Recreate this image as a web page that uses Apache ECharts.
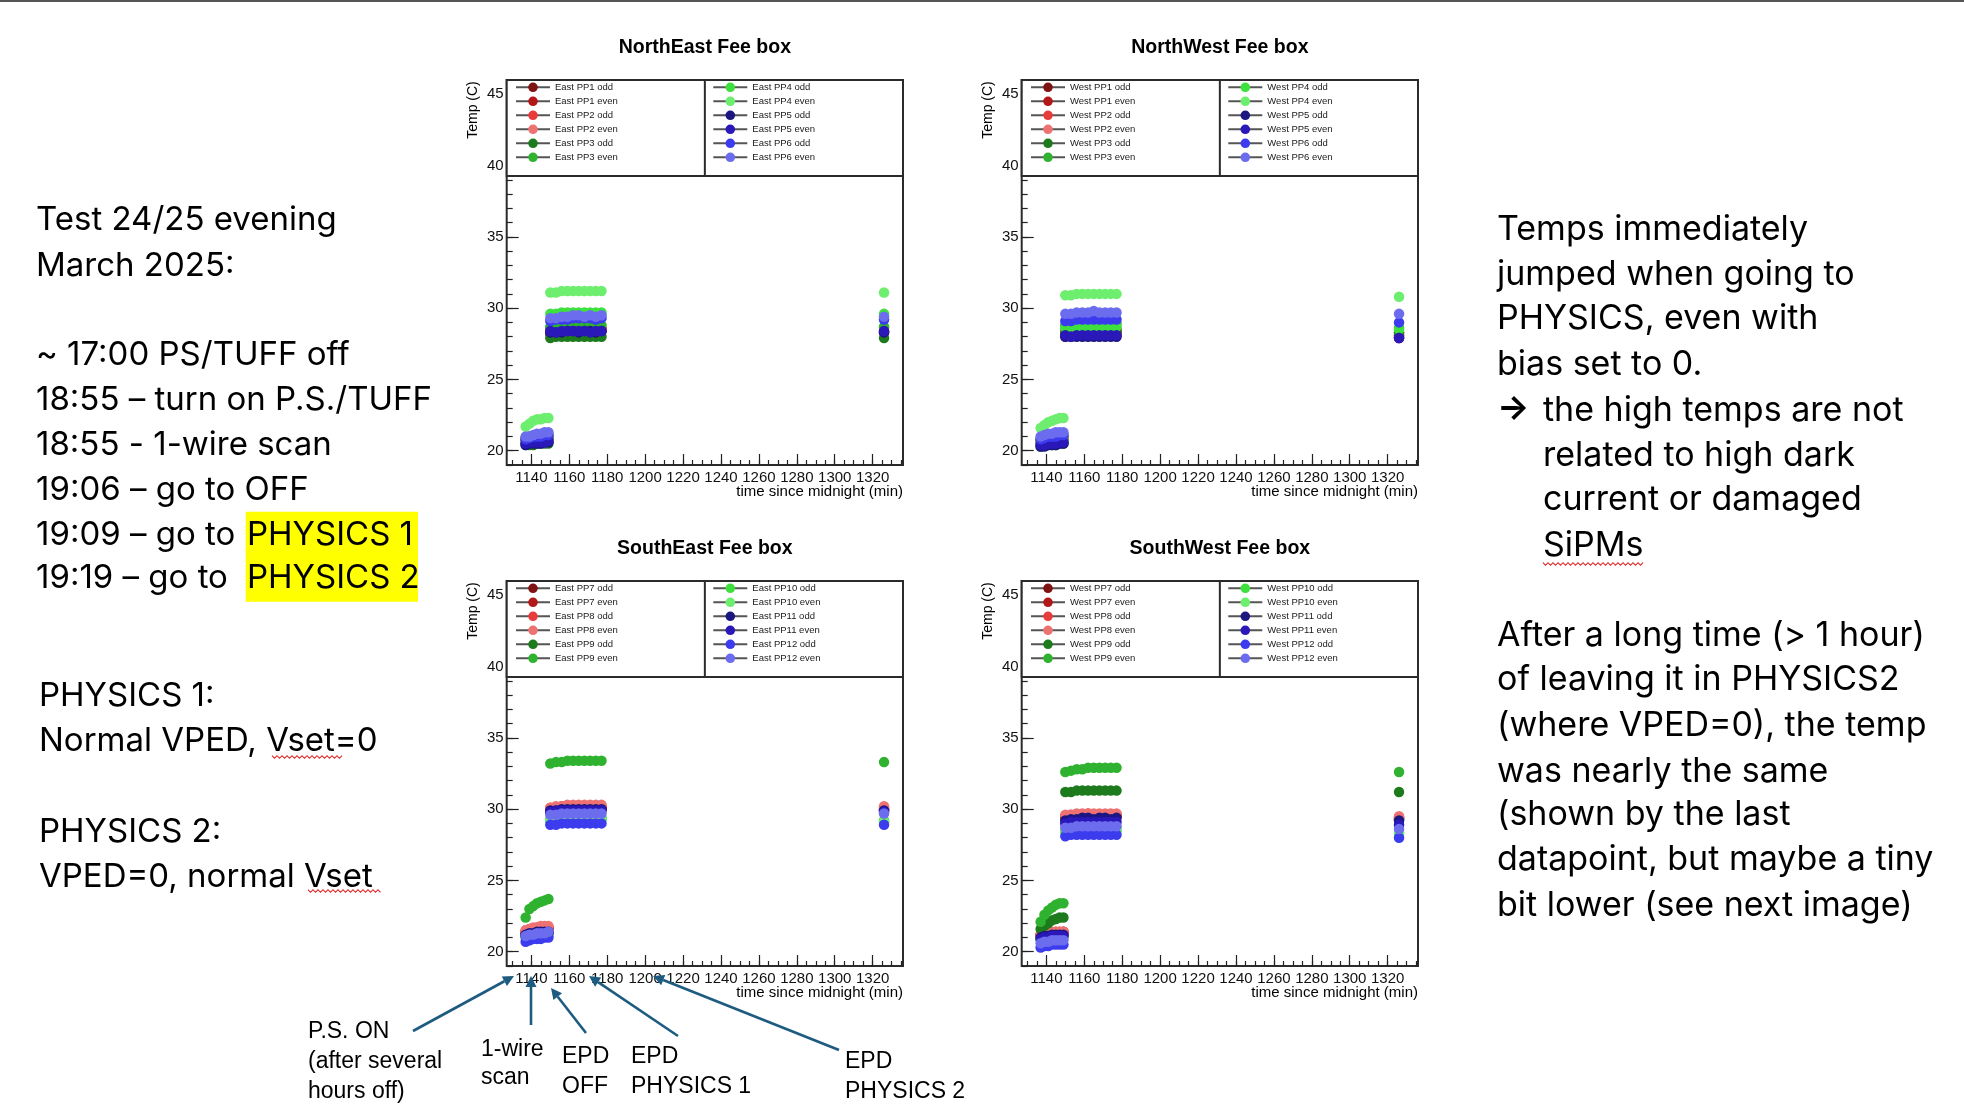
<!DOCTYPE html>
<html><head><meta charset="utf-8">
<script src="https://cdn.jsdelivr.net/npm/echarts@6/dist/echarts.min.js"></script>
<style>html,body{margin:0;padding:0;background:#fff}#c{width:1964px;height:1118px}</style>
</head><body><div id="c"></div>
<script>
// ---------------- DATA ----------------
const times = [1137,1139,1141,1143,1145,1147,1149, 1150,1153,1156,1159,1162,1165,1168,1171,1174,1177, 1326];

const xMajorTicks = [1140,1160,1180,1200,1220,1240,1260,1280,1300,1320];
const xMinorTicks = [1130,1135,1140,1145,1150,1155,1160,1165,1170,1175,1180,1185,1190,1195,1200,1205,1210,1215,1220,1225,1230,1235,1240,1245,1250,1255,1260,1265,1270,1275,1280,1285,1290,1295,1300,1305,1310,1315,1320,1325,1330,1335];
const yMajorTicks = [20,25,30,35,40,45];
const yMinorTicks = [19,20,21,22,23,24,25,26,27,28,29,30,31,32,33,34,35,36,37,38,39,40,41,42,43,44,45,46];

const panelTitles = ['NorthEast Fee box','NorthWest Fee box','SouthEast Fee box','SouthWest Fee box'];
const seriesColors = ['#7f1212','#b31818','#e83c3c','#ee7272','#1d7a1d','#2fb22f','#3ee03e','#6eee6e','#1c1680','#2a18b8','#3c3cee','#6c6cee'];

const northEastNames = ['East PP1 odd','East PP1 even','East PP2 odd','East PP2 even','East PP3 odd','East PP3 even','East PP4 odd','East PP4 even','East PP5 odd','East PP5 even','East PP6 odd','East PP6 even'];
const northWestNames = ['West PP1 odd','West PP1 even','West PP2 odd','West PP2 even','West PP3 odd','West PP3 even','West PP4 odd','West PP4 even','West PP5 odd','West PP5 even','West PP6 odd','West PP6 even'];
const southEastNames = ['East PP7 odd','East PP7 even','East PP8 odd','East PP8 even','East PP9 odd','East PP9 even','East PP10 odd','East PP10 even','East PP11 odd','East PP11 even','East PP12 odd','East PP12 even'];
const southWestNames = ['West PP7 odd','West PP7 even','West PP8 odd','West PP8 even','West PP9 odd','West PP9 even','West PP10 odd','West PP10 even','West PP11 odd','West PP11 even','West PP12 odd','West PP12 even'];

const northEastTemps = [
 [20.7,20.7,20.8,20.8,20.8,20.8,20.9, 28.2,28.3,28.3,28.3,28.4,28.3,28.4,28.3,28.4,28.4, 28.3],
 [20.8,20.8,20.9,20.9,20.9,21.0,21.0, 28.4,28.4,28.5,28.4,28.5,28.5,28.4,28.5,28.5,28.5, 28.4],
 [20.9,21.0,21.0,21.0,21.1,21.1,21.1, 28.5,28.6,28.6,28.6,28.6,28.7,28.6,28.6,28.7,28.6, 28.6],
 [20.8,20.9,20.9,20.9,21.0,21.0,21.0, 28.4,28.4,28.5,28.5,28.5,28.4,28.5,28.5,28.5,28.4, 28.4],
 [20.4,20.4,20.4,20.5,20.5,20.5,20.5, 27.9,28.0,28.0,28.0,28.0,28.0,28.0,28.0,28.0,28.0, 27.9],
 [20.6,20.6,20.7,20.7,20.7,20.7,20.8, 28.7,28.8,28.8,28.8,28.8,28.8,28.8,28.8,28.8,28.8, 28.7],
 [20.9,21.0,21.0,21.0,21.1,21.1,21.1, 29.6,29.6,29.7,29.7,29.7,29.7,29.7,29.7,29.7,29.7, 29.6],
 [21.7,21.9,22.1,22.2,22.2,22.3,22.3, 31.1,31.1,31.2,31.2,31.2,31.2,31.2,31.2,31.2,31.2, 31.1],
 [20.4,20.5,20.5,20.5,20.5,20.6,20.6, 28.3,28.3,28.3,28.4,28.4,28.3,28.4,28.4,28.3,28.4, 28.3],
 [20.5,20.6,20.6,20.6,20.6,20.6,20.7, 28.4,28.3,28.4,28.4,28.4,28.4,28.4,28.3,28.4,28.4, 28.4],
 [20.8,20.9,21.0,21.0,21.0,21.1,21.1, 29.1,29.2,29.2,29.2,29.3,29.3,29.3,29.3,29.2,29.3, 29.2],
 [21.0,21.0,21.1,21.2,21.2,21.3,21.3, 29.3,29.3,29.4,29.4,29.5,29.5,29.4,29.5,29.4,29.5, 29.4]
];
const northWestTemps = [
 [20.6,20.6,20.7,20.7,20.7,20.8,20.8, 28.1,28.1,28.2,28.2,28.2,28.2,28.2,28.2,28.2,28.2, 28.0],
 [20.7,20.7,20.8,20.8,20.8,20.9,20.9, 28.2,28.3,28.3,28.3,28.3,28.3,28.3,28.3,28.3,28.3, 28.1],
 [20.8,20.8,20.9,20.9,20.9,21.0,21.0, 28.4,28.4,28.4,28.5,28.5,28.4,28.5,28.5,28.4,28.5, 28.3],
 [20.6,20.7,20.7,20.7,20.8,20.8,20.8, 28.0,28.1,28.1,28.1,28.1,28.1,28.1,28.1,28.1,28.1, 27.9],
 [20.3,20.4,20.4,20.4,20.4,20.5,20.5, 28.3,28.4,28.4,28.4,28.4,28.4,28.4,28.4,28.4,28.4, 28.3],
 [20.5,20.6,20.6,20.6,20.7,20.7,20.7, 28.8,28.8,28.8,28.9,28.9,28.9,28.9,28.9,28.9,28.9, 28.6],
 [20.8,20.9,20.9,21.0,21.0,21.0,21.1, 28.6,28.7,28.7,28.7,28.7,28.7,28.7,28.7,28.7,28.7, 28.5],
 [21.6,21.8,22.0,22.1,22.2,22.3,22.3, 30.9,30.9,31.0,31.0,31.0,31.0,31.0,31.0,31.0,31.0, 30.8],
 [20.3,20.3,20.4,20.4,20.4,20.5,20.5, 28.0,28.0,28.0,28.0,28.0,28.0,28.0,28.0,28.0,28.0, 27.9],
 [20.4,20.4,20.5,20.5,20.5,20.6,20.6, 28.1,28.0,28.1,28.1,28.1,28.1,28.1,28.1,28.1,28.1, 27.9],
 [20.8,20.9,21.0,21.0,21.0,21.1,21.1, 29.1,29.1,29.2,29.2,29.2,29.2,29.2,29.2,29.2,29.2, 29.0],
 [21.0,21.1,21.2,21.2,21.3,21.3,21.3, 29.6,29.6,29.7,29.7,29.7,29.8,29.7,29.7,29.7,29.7, 29.6]
];
const southEastTemps = [
 [21.3,21.4,21.4,21.5,21.5,21.5,21.6, 29.8,29.9,29.9,29.9,30.0,29.9,30.0,30.0,29.9,30.0, 29.9],
 [21.4,21.5,21.5,21.6,21.6,21.6,21.7, 30.0,30.0,30.1,30.1,30.1,30.1,30.1,30.1,30.1,30.1, 30.0],
 [21.5,21.6,21.6,21.7,21.7,21.7,21.7, 30.1,30.1,30.2,30.2,30.2,30.2,30.2,30.2,30.2,30.2, 30.1],
 [21.5,21.6,21.7,21.7,21.8,21.8,21.8, 30.1,30.2,30.2,30.3,30.3,30.3,30.3,30.3,30.3,30.3, 30.2],
 [21.1,21.2,21.2,21.3,21.3,21.3,21.3, 29.2,29.3,29.3,29.3,29.3,29.3,29.3,29.3,29.3,29.3, 29.1],
 [22.4,23.0,23.2,23.4,23.5,23.6,23.7, 33.2,33.3,33.3,33.4,33.4,33.4,33.4,33.4,33.4,33.4, 33.3],
 [21.0,21.1,21.1,21.2,21.2,21.2,21.2, 29.3,29.3,29.4,29.4,29.4,29.4,29.4,29.4,29.4,29.4, 29.2],
 [21.0,21.1,21.1,21.1,21.2,21.2,21.2, 29.2,29.2,29.3,29.3,29.3,29.3,29.3,29.3,29.3,29.3, 29.1],
 [21.2,21.3,21.3,21.4,21.4,21.4,21.4, 29.9,29.9,30.0,30.0,30.0,30.0,30.0,30.0,30.0,30.0, 29.9],
 [21.1,21.2,21.2,21.3,21.3,21.3,21.3, 29.8,29.9,29.9,29.9,29.9,29.9,29.9,29.9,29.9,29.9, 29.8],
 [20.7,20.8,20.9,20.9,20.9,21.0,21.0, 28.9,28.9,29.0,29.0,29.0,29.0,29.0,29.0,29.0,29.0, 28.9],
 [21.1,21.2,21.2,21.3,21.3,21.3,21.4, 29.6,29.6,29.7,29.7,29.7,29.7,29.7,29.7,29.7,29.7, 29.7]
];
const southWestTemps = [
 [21.1,21.1,21.2,21.2,21.2,21.3,21.3, 29.4,29.4,29.5,29.5,29.5,29.5,29.5,29.5,29.5,29.5, 29.3],
 [21.2,21.2,21.3,21.3,21.3,21.3,21.4, 29.5,29.5,29.6,29.6,29.6,29.6,29.6,29.6,29.6,29.6, 29.4],
 [21.2,21.3,21.3,21.3,21.4,21.4,21.4, 29.5,29.6,29.6,29.6,29.7,29.6,29.6,29.6,29.6,29.6, 29.4],
 [21.2,21.3,21.3,21.4,21.4,21.4,21.4, 29.6,29.6,29.7,29.7,29.7,29.7,29.7,29.7,29.7,29.7, 29.5],
 [21.6,21.8,22.0,22.2,22.3,22.4,22.4, 31.2,31.2,31.3,31.3,31.3,31.3,31.3,31.3,31.3,31.3, 31.2],
 [22.1,22.6,22.9,23.1,23.3,23.4,23.4, 32.6,32.7,32.8,32.8,32.9,32.9,32.9,32.9,32.9,32.9, 32.6],
 [20.8,20.9,20.9,21.0,21.0,21.0,21.0, 28.4,28.5,28.5,28.5,28.5,28.5,28.5,28.5,28.5,28.5, 28.3],
 [20.9,21.0,21.0,21.0,21.1,21.1,21.1, 28.6,28.6,28.7,28.7,28.7,28.7,28.7,28.7,28.7,28.7, 28.4],
 [21.0,21.1,21.1,21.2,21.2,21.2,21.2, 29.2,29.3,29.3,29.4,29.4,29.3,29.4,29.4,29.3,29.4, 29.2],
 [20.9,21.0,21.0,21.1,21.1,21.1,21.1, 29.0,29.1,29.1,29.1,29.1,29.1,29.1,29.1,29.1,29.1, 28.9],
 [20.3,20.4,20.4,20.5,20.5,20.5,20.5, 28.1,28.2,28.2,28.2,28.2,28.2,28.2,28.2,28.2,28.2, 28.0],
 [20.6,20.7,20.7,20.8,20.8,20.8,20.8, 28.7,28.7,28.8,28.8,28.8,28.8,28.8,28.8,28.8,28.8, 28.6]
];

const leftNotes = ['Test 24/25 evening','March 2025:','~ 17:00 PS/TUFF off','18:55 \u2013 turn on P.S./TUFF','18:55 - 1-wire scan','19:06 \u2013 go to OFF','19:09 \u2013 go to ','19:19 \u2013 go to '];
const highlightNotes = ['PHYSICS 1','PHYSICS 2'];
const modeNotes = ['PHYSICS 1:','Normal VPED, Vset=0','PHYSICS 2:','VPED=0, normal Vset'];
const rightNotes = ['Temps immediately','jumped when going to','PHYSICS, even with','bias set to 0.','the high temps are not','related to high dark','current or damaged','SiPMs','After a long time (> 1 hour)','of leaving it in PHYSICS2','(where VPED=0), the temp','was nearly the same','(shown by the last','datapoint, but maybe a tiny','bit lower (see next image)'];
const eventLabels = [['P.S. ON','(after several','hours off)'],['1-wire','scan'],['EPD','OFF'],['EPD','PHYSICS 1'],['EPD','PHYSICS 2']];

// ---------------- LAYOUT ----------------
const panelPos = [{l:506.7,t:80},{l:1021.7,t:80},{l:506.7,t:581},{l:1021.7,t:581}];
const PW = 396.3, PH = 385, LEGH = 96;
const panelNames = [northEastNames, northWestNames, southEastNames, southWestNames];
const panelTemps = [northEastTemps, northWestTemps, southEastTemps, southWestTemps];
const CF = 'Liberation Sans, Arial, Helvetica, sans-serif';
const SF = 'Inter, Lato, sans-serif';

const grid = [], xAxis = [], yAxis = [], series = [], legend = [], graphic = [];

panelPos.forEach((p, i) => {
  grid.push({left:p.l, top:p.t, width:PW, height:PH, show:true, borderColor:'#2b2b2b', borderWidth:2, backgroundColor:'transparent'});
  xAxis.push({type:'value', gridIndex:i, min:1127, max:1336, position:'bottom', axisLine:{show:false}, splitLine:{show:false},
    axisTick:{show:true, inside:true, length:11, customValues:xMajorTicks, lineStyle:{color:'#222', width:1.2}},
    axisLabel:{show:true, customValues:xMajorTicks, margin:5, fontSize:15, color:'#111', fontFamily:CF, formatter:v => String(v)}
  });
  yAxis.push({type:'value', gridIndex:i, min:19, max:46, position:'left', axisLine:{show:false}, splitLine:{show:false},
    axisTick:{show:true, inside:true, length:12, customValues:yMajorTicks, lineStyle:{color:'#222', width:1.2}},
    axisLabel:{show:true, customValues:yMajorTicks, margin:3, fontSize:15, color:'#111', fontFamily:CF, formatter:v => String(v)}
  });
});
panelPos.forEach((p, i) => {
  xAxis.push({type:'value', gridIndex:i, min:1127, max:1336, position:'bottom', axisLine:{show:false}, splitLine:{show:false},
    axisTick:{show:true, inside:true, length:5, customValues:xMinorTicks, lineStyle:{color:'#222', width:1.2}}, axisLabel:{show:false}});
  yAxis.push({type:'value', gridIndex:i, min:19, max:46, position:'left', axisLine:{show:false}, splitLine:{show:false},
    axisTick:{show:true, inside:true, length:6, customValues:yMinorTicks, lineStyle:{color:'#222', width:1.2}}, axisLabel:{show:false}});
});

panelPos.forEach((p, i) => {
  const names = panelNames[i], temps = panelTemps[i];
  names.forEach((nm, k) => {
    series.push({
      type:'line', name:nm, xAxisIndex:i, yAxisIndex:i,
      data: times.map((t, j) => [t, temps[k][j]]),
      symbol:'circle', symbolSize:10.5, showSymbol:true, showAllSymbol:true,
      lineStyle:{width:0, opacity:0}, itemStyle:{color:seriesColors[k], opacity:1},
      silent:true, animation:false
    });
  });
  const legBase = {orient:'vertical', padding:0, itemGap:4, itemWidth:34, itemHeight:12, selectedMode:false,
    textStyle:{fontSize:9.5, color:'#1a1a1a', fontFamily:CF}, lineStyle:{color:'#555', width:2, opacity:1}, z:10};
  legend.push(Object.assign({}, legBase, {left:p.l + 8.3, top:p.t + 2.3, data:names.slice(0,6)}));
  legend.push(Object.assign({}, legBase, {left:p.l + 205.6, top:p.t + 2.3, data:names.slice(6)}));

  graphic.push({type:'rect', z:5, shape:{x:p.l, y:p.t, width:PW, height:LEGH}, style:{fill:'#fff', stroke:'#2b2b2b', lineWidth:2}});
  graphic.push({type:'line', z:6, shape:{x1:p.l + PW/2, y1:p.t, x2:p.l + PW/2, y2:p.t + LEGH}, style:{stroke:'#2b2b2b', lineWidth:2}});
  graphic.push({type:'text', z:6, x:p.l + PW/2, y:p.t - 32, style:{text:panelTitles[i], align:'center', verticalAlign:'middle', fontSize:19.5, fontWeight:'bold', fontFamily:CF, fill:'#000'}});
  graphic.push({type:'text', z:6, x:p.l - 34, y:p.t + 30, rotation:Math.PI/2, style:{text:'Temp (C)', align:'center', verticalAlign:'middle', fontSize:14, fontFamily:CF, fill:'#000'}});
  graphic.push({type:'text', z:6, x:p.l + PW, y:p.t + PH + 27, style:{text:'time since midnight (min)', align:'right', verticalAlign:'middle', fontSize:15, fontFamily:CF, fill:'#000'}});
});

// top border line of slide
graphic.push({type:'line', z:1, shape:{x1:0, y1:1, x2:1964, y2:1}, style:{stroke:'#555', lineWidth:2}});

// left notes
graphic.push({type:'rect', z:1, shape:{x:245.7, y:511.7, width:172.3, height:90}, style:{fill:'#ffff00'}});
const leftY = [220, 266, 355, 400, 445, 490, 535, 578];
leftNotes.forEach((s, i) => graphic.push({type:'text', z:2, x:36, y:leftY[i], style:{text:s, align:'left', verticalAlign:'middle', fontSize:33, fontFamily:SF, fill:'#000'}}));
highlightNotes.forEach((s, i) => graphic.push({type:'text', z:2, x:247, y:leftY[6 + i], style:{text:s, align:'left', verticalAlign:'middle', fontSize:33, fontFamily:SF, fill:'#000'}}));
const modeY = [696, 741, 832, 877];
modeNotes.forEach((s, i) => graphic.push({type:'text', z:2, x:39, y:modeY[i], style:{text:s, align:'left', verticalAlign:'middle', fontSize:33, fontFamily:SF, fill:'#000'}}));

// right notes
const rightY = [230, 275, 319, 365, 411, 456, 500, 546, 636, 680, 726, 772, 815, 860, 906];
const rightX = [1497,1497,1497,1497,1543,1543,1543,1543,1497,1497,1497,1497,1497,1497,1497];
rightNotes.forEach((s, i) => graphic.push({type:'text', z:2, x:rightX[i], y:rightY[i], style:{text:s, align:'left', verticalAlign:'middle', fontSize:34, fontFamily:SF, fill:'#000'}}));
graphic.push({type:'text', z:2, x:1497, y:409, style:{text:'\u2192', align:'left', verticalAlign:'middle', fontSize:34, fontWeight:'bold', fontFamily:SF, fill:'#000'}});

function squiggle(x1, x2, y) {
  const pts = []; let up = true;
  for (let x = x1; x <= x2; x += 2.5) { pts.push([x, y + (up ? -1.3 : 1.3)]); up = !up; }
  return {type:'polyline', z:2, shape:{points:pts}, style:{stroke:'#e02020', lineWidth:1.1, fill:null}};
}
graphic.push(squiggle(272, 344, 757));
graphic.push(squiggle(308, 382, 891));
graphic.push(squiggle(1543, 1645, 564));

// event annotations
const evPos = [{x:308, y:[1032,1062,1092]}, {x:481, y:[1050,1078]}, {x:562, y:[1057,1087]}, {x:631, y:[1057,1087]}, {x:845, y:[1062,1092]}];
eventLabels.forEach((lines, i) => lines.forEach((s, j) => graphic.push({type:'text', z:2, x:evPos[i].x, y:evPos[i].y[j], style:{text:s, align:'left', verticalAlign:'middle', fontSize:23, fontFamily:CF, fill:'#000'}})));
const arrows = [[413,1031,514,976],[531,1025,531,976],[586,1033,551,988],[678,1036,589,976],[839,1050,653,976]];
const AC = '#1d5b80';
arrows.forEach(a => {
  const [x1,y1,x2,y2] = a; const dx = x2-x1, dy = y2-y1, L = Math.hypot(dx,dy), ux = dx/L, uy = dy/L;
  const hl = 11, hw = 5.5; const bx = x2 - ux*hl, by = y2 - uy*hl;
  graphic.push({type:'line', z:2, shape:{x1, y1, x2:bx, y2:by}, style:{stroke:AC, lineWidth:2.6}});
  graphic.push({type:'polygon', z:2, shape:{points:[[x2,y2],[bx - uy*hw, by + ux*hw],[bx + uy*hw, by - ux*hw]]}, style:{fill:AC}});
});

const chart = echarts.init(document.getElementById('c'), null, {renderer:'canvas'});
chart.setOption({backgroundColor:'#fff', animation:false, grid, xAxis, yAxis, series, legend, graphic});
</script></body></html>
